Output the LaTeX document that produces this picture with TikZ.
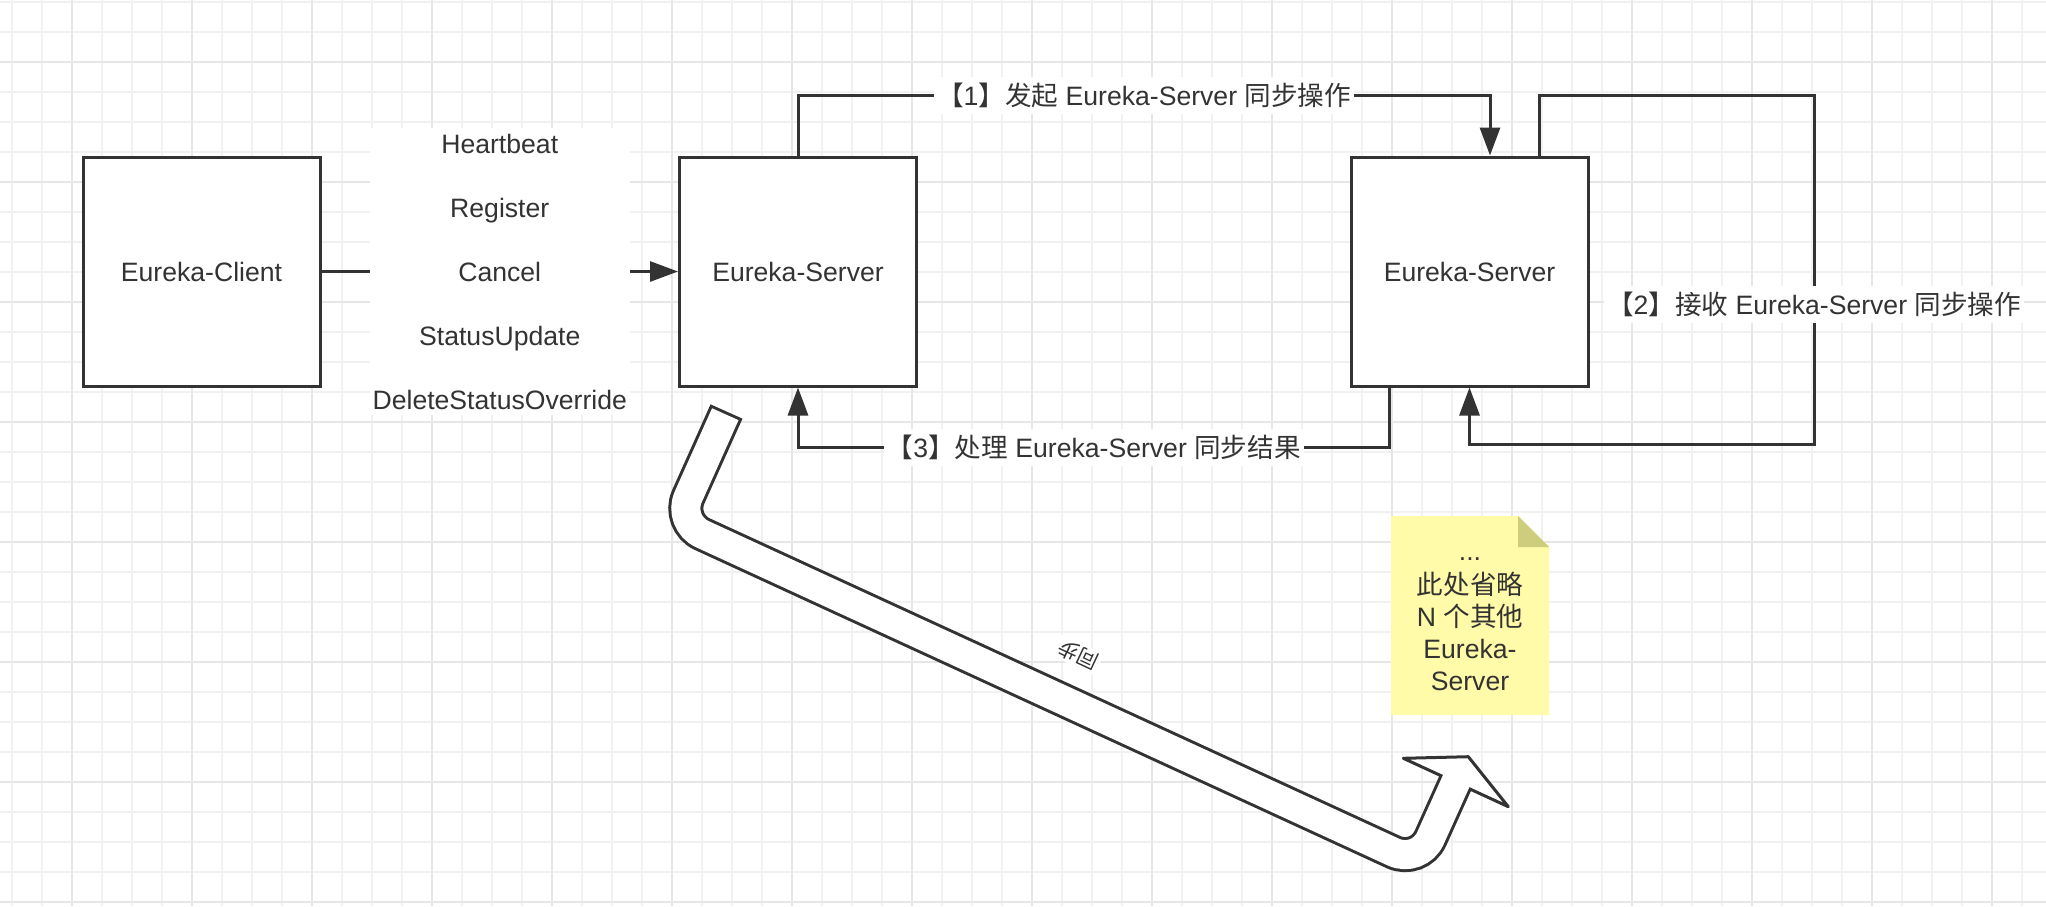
\documentclass[tikz,border=0pt]{standalone}
\usepackage{fontspec}
\setmainfont{Liberation Sans}
\newfontfamily\cjk{Noto Sans CJK SC}
\usetikzlibrary{arrows.meta,calc}
\definecolor{ink}{RGB}{51,51,51}
\definecolor{gridminor}{RGB}{241,241,241}
\definecolor{gridmajor}{RGB}{230,230,230}
\definecolor{noteyellow}{RGB}{255,251,168}
\definecolor{notefold}{RGB}{205,205,125}
\newcommand\lblfont{\fontsize{13.3pt}{16pt}\selectfont}
\begin{document}
\begin{tikzpicture}[x=0.5pt,y=-0.5pt,
  box/.style={draw=ink, line width=1.5pt, fill=white, minimum width=118.5pt,
    minimum height=114.5pt, inner sep=0pt, font=\lblfont, text=ink},
  conn/.style={draw=ink, line width=1.5pt, -{Triangle[length=14pt,width=10pt]}},
  lbl/.style={fill=white, inner xsep=1.5pt, inner ysep=3pt, text=ink, font=\lblfont},
  gmin/.style={draw=gridminor, line width=0.6pt},
  gmaj/.style={draw=gridmajor, line width=0.7pt}]
\useasboundingbox (0,0) rectangle (2046,906);
\fill[white] (0,0) rectangle (2046,906);
% grid
\foreach \i in {0,...,67} \draw[gmin] (12+30*\i,0) -- (12+30*\i,906);
\foreach \j in {0,...,30} \draw[gmin] (0,2+30*\j) -- (2046,2+30*\j);
\foreach \k in {0,...,16} \draw[gmaj] (72+120*\k,0) -- (72+120*\k,906);
\foreach \k in {0,...,7} \draw[gmaj] (0,62+120*\k) -- (2046,62+120*\k);

% boxes
\node[box] (client) at (201.5,271.5) {Eureka-Client};
\node[box] (s1) at (798,271.5) {Eureka-Server};
\node[box] (s2) at (1469.5,271.5) {Eureka-Server};

\coordinate (s2a) at ([xshift=10.25pt]s2.north);
\coordinate (s2b) at ([xshift=35pt]s2.north);
\coordinate (s2c) at ([xshift=-40pt]s2.south);

% client -> server
\draw[conn] (client.east) -- node[midway, lbl, align=center,
  font=\fontsize{13.3pt}{32pt}\selectfont] (ops)
  {Heartbeat\\Register\\Cancel\\StatusUpdate\\DeleteStatusOverride} (s1.west);

% [1]
\draw[conn] (s1.north) -- ++(0,-60) -| node[pos=0.25, lbl] (l1)
  {{\cjk 【}1{\cjk 】发起} Eureka-Server {\cjk 同步操作}} (s2a);

% [2]
\draw[conn] (s2b) -- ++(0,-60) -- ++(274.5,0)
  -- node[pos=0.6, lbl] (l2) {{\cjk 【}2{\cjk 】接收} Eureka-Server {\cjk 同步操作}} ++(0,348.5)
  -| (s2.south);

% [3]
\draw[conn] (s2c) -- ++(0,60) -| node[pos=0.25, lbl] (l3)
  {{\cjk 【}3{\cjk 】处理} Eureka-Server {\cjk 同步结果}} (s1.south);

% big flexible arrow
\coordinate (fa0) at (726.5,411.5);
\coordinate (fa0w) at (725.3,414.2);
\coordinate (fa1) at (676.8,522.4);
\coordinate (fa2) at (1418.9,863.8);
\coordinate (fahb) at (1456,781.5);
\coordinate (fahw) at (1457.2,778.8);
\coordinate (fab1) at (1403.3,758.3);
\coordinate (fat) at (1468.3,756.7);
\coordinate (fab2) at (1508.3,806.7);
\draw[ink, line width=17.5pt, rounded corners=14pt] (fa0) -- (fa1) -- (fa2) -- (fahb);
\filldraw[fill=white, draw=ink, line width=1.5pt, line join=round] (fab1) -- (fat) -- (fab2) -- cycle;
\draw[white, line width=14.5pt, rounded corners=14pt] (fa0w) -- (fa1) -- (fa2) -- (fahw);
\node[rotate=155, fill=white, inner sep=1pt, text=ink, font=\fontsize{10.5pt}{12pt}\selectfont\cjk] (sync) at (1078,655) {同步};

% note
\fill[noteyellow] (1391,516) -- (1518,516) -- (1549,547) -- (1549,715) -- (1391,715) -- cycle;
\fill[notefold] (1518,516) -- (1549,547) -- (1518,547) -- cycle;
\node[inner sep=0pt, align=center, text=ink, font=\fontsize{13.3pt}{15.9pt}\selectfont] (note) at (1470,619)
  {\strut...\\{\cjk 此处省略}\\N {\cjk 个其他}\\Eureka-\\Server\strut};
\end{tikzpicture}
\end{document}
